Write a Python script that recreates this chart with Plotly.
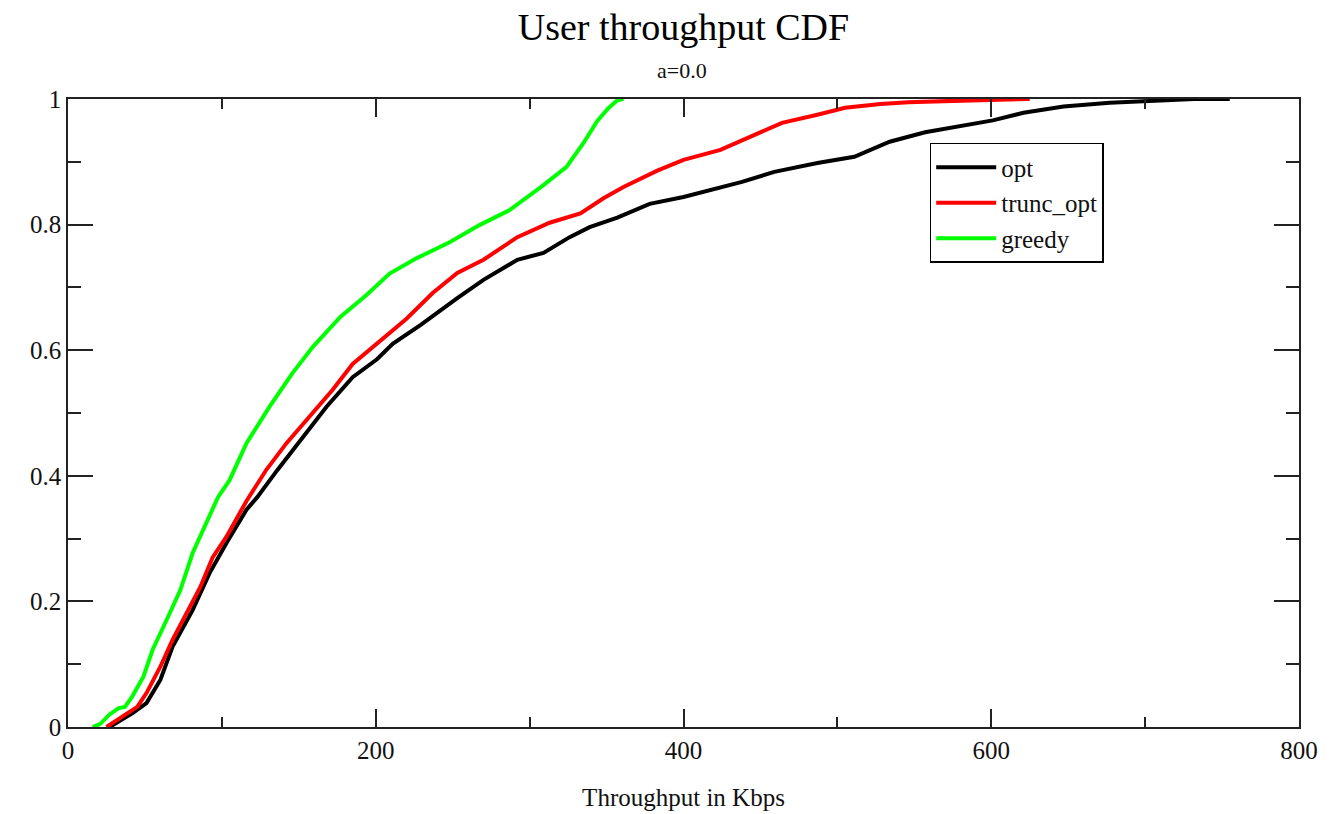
import plotly.graph_objects as go

# ---- data ----
opt_x = [27, 42, 51, 60, 68, 81, 92, 103, 116, 123, 136, 151, 168, 185, 201, 211, 229, 253, 270, 292,
         309, 326, 339, 357, 378, 400, 424, 438, 459, 487, 511, 534, 557, 575, 601, 621, 647, 677, 705, 732, 755]
opt_y = [0, 0.022, 0.038, 0.075, 0.128, 0.186, 0.245, 0.293, 0.346, 0.366, 0.409, 0.457, 0.51, 0.557, 0.586,
         0.61, 0.64, 0.683, 0.712, 0.744, 0.755, 0.78, 0.796, 0.811, 0.833, 0.844, 0.86, 0.868, 0.884, 0.898,
         0.908, 0.932, 0.947, 0.955, 0.966, 0.978, 0.988, 0.994, 0.997, 1.0, 1.0]

trunc_x = [25, 34, 45, 51, 60, 68, 77, 86, 94, 103, 116, 129, 142, 155, 172, 185, 203, 220, 237, 253, 270,
           292, 313, 333, 348, 361, 383, 400, 424, 444, 464, 487, 505, 528, 546, 575, 625]
trunc_y = [0, 0.014, 0.032, 0.054, 0.096, 0.139, 0.18, 0.223, 0.27, 0.303, 0.36, 0.41, 0.452, 0.489, 0.537,
           0.578, 0.615, 0.65, 0.691, 0.723, 0.744, 0.78, 0.803, 0.818, 0.842, 0.86, 0.886, 0.903, 0.919, 0.94,
           0.962, 0.975, 0.986, 0.992, 0.995, 0.997, 1.0]

greedy_x = [16, 21, 27, 33, 37, 41.6, 49, 55, 64, 73, 81, 90, 97.5, 105, 116, 131, 146, 159, 177, 194, 209,
            227, 248, 268, 287, 309, 324, 335, 344, 351, 357, 361]
greedy_y = [0, 0.005, 0.02, 0.03, 0.032, 0.048, 0.08, 0.123, 0.17, 0.218, 0.277, 0.325, 0.366, 0.393, 0.452,
            0.51, 0.564, 0.605, 0.653, 0.688, 0.722, 0.747, 0.772, 0.80, 0.823, 0.863, 0.892, 0.93, 0.965,
            0.985, 0.998, 1.0]

series_names = ["opt", "trunc_opt", "greedy"]
series_colors = ["#000000", "#ff0000", "#00ff00"]

x_ticks = [0, 200, 400, 600, 800]
y_ticks = [0, 0.2, 0.4, 0.6, 0.8, 1]
y_tick_text = ["0", "0.2", "0.4", "0.6", "0.8", "1"]

FONT = "Liberation Serif"
AX = "#222222"

fig = go.Figure()
for xs, ys, name, col in zip([opt_x, trunc_x, greedy_x], [opt_y, trunc_y, greedy_y],
                             series_names, series_colors):
    fig.add_trace(go.Scatter(x=xs, y=ys, mode="lines", name=name,
                             line=dict(color=col, width=4)))

fig.update_layout(
    width=1331, height=814,
    margin=dict(l=68, r=32, t=99, b=87),
    paper_bgcolor="white", plot_bgcolor="white",
    font=dict(family=FONT, color="#111111"),
    title=dict(text="User throughput CDF", x=0.5135, xanchor="center", y=0.967, yanchor="middle",
               font=dict(family=FONT, size=38, color="#000000")),
    showlegend=True,
    legend=dict(x=0.700, y=0.930, xanchor="left", yanchor="top",
                bgcolor="white", bordercolor="#000000", borderwidth=1.5,
                font=dict(family=FONT, size=25, color="#111111"),
                itemwidth=60, tracegroupgap=0),
    annotations=[dict(text="a=0.0", xref="paper", yref="paper", x=0.499, y=1.0, yshift=14,
                      xanchor="center", yanchor="bottom", showarrow=False,
                      font=dict(family=FONT, size=22, color="#111111"))],
)

fig.update_xaxes(
    range=[0, 800], tickvals=x_ticks, ticks="inside", ticklen=18, tickwidth=1.5, tickcolor=AX,
    showline=True, linecolor=AX, linewidth=1.5, mirror="ticks", showgrid=False, zeroline=False,
    automargin=False,
    minor=dict(dtick=100, ticks="inside", ticklen=10, tickwidth=1.5, tickcolor=AX, showgrid=False),
    tickfont=dict(family=FONT, size=25, color="#111111"),
    title=dict(text="Throughput in Kbps", font=dict(family=FONT, size=25, color="#111111"), standoff=26),
)
fig.update_yaxes(
    range=[0, 1], tickvals=y_ticks, ticktext=y_tick_text, ticks="inside", ticklen=25, tickwidth=1.5,
    tickcolor=AX, showline=True, linecolor=AX, linewidth=1.5, mirror="ticks", showgrid=False,
    zeroline=False, automargin=False,
    minor=dict(dtick=0.1, ticks="inside", ticklen=13, tickwidth=1.5, tickcolor=AX, showgrid=False),
    tickfont=dict(family=FONT, size=25, color="#111111"),
)

fig.write_html("out.html", config={"displayModeBar": False},
               post_script="document.body.style.margin='0px';")
